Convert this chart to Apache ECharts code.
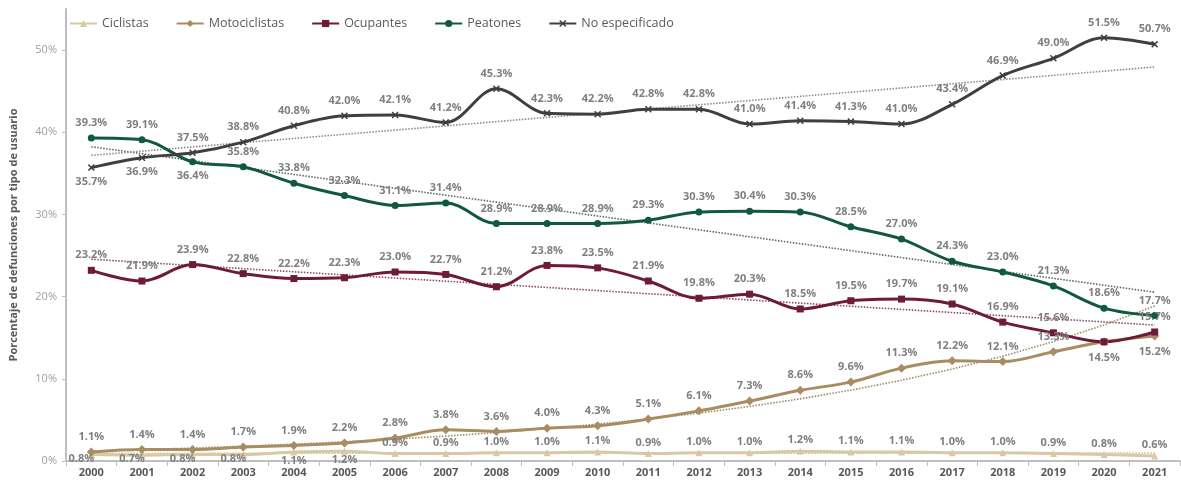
<!DOCTYPE html>
<html><head><meta charset="utf-8">
<script src="https://cdn.jsdelivr.net/npm/echarts@6/dist/echarts.min.js"></script>
<style>html,body{margin:0;padding:0;background:#fff}#c{width:1181px;height:480px}</style>
</head><body><div id="c"></div>
<script>
const years = ['2000','2001','2002','2003','2004','2005','2006','2007','2008','2009','2010','2011','2012','2013','2014','2015','2016','2017','2018','2019','2020','2021'];
const ciclistas = [0.8,0.7,0.8,0.8,1.1,1.2,0.9,0.9,1.0,1.0,1.1,0.9,1.0,1.0,1.2,1.1,1.1,1.0,1.0,0.9,0.8,0.6];
const motociclistas = [1.1,1.4,1.4,1.7,1.9,2.2,2.8,3.8,3.6,4.0,4.3,5.1,6.1,7.3,8.6,9.6,11.3,12.2,12.1,13.3,14.5,15.2];
const ocupantes = [23.2,21.9,23.9,22.8,22.2,22.3,23.0,22.7,21.2,23.8,23.5,21.9,19.8,20.3,18.5,19.5,19.7,19.1,16.9,15.6,14.5,15.7];
const peatones = [39.3,39.1,36.4,35.8,33.8,32.3,31.1,31.4,28.9,28.9,28.9,29.3,30.3,30.4,30.3,28.5,27.0,24.3,23.0,21.3,18.6,17.7];
const noEspecificado = [35.7,36.9,37.5,38.8,40.8,42.0,42.1,41.2,45.3,42.3,42.2,42.8,42.8,41.0,41.4,41.3,41.0,43.4,46.9,49.0,51.5,50.7];
const yTicks = [0,10,20,30,40,50];

function linFit(a){
  const n=a.length; let sx=0,sy=0,sxx=0,sxy=0;
  a.forEach((y,x)=>{sx+=x;sy+=y;sxx+=x*x;sxy+=x*y;});
  const b=(n*sxy-sx*sy)/(n*sxx-sx*sx), c=(sy-b*sx)/n;
  return a.map((_,x)=>c+b*x);
}
function expFit(a){
  const l=a.map(v=>Math.log(v));
  return linFit(l).map(v=>Math.exp(v));
}

const LBL = {show:true, fontFamily:'Open Sans', fontWeight:700, fontSize:11, color:'#7f7f7f',
  formatter:p=>Number(p.value).toFixed(1)+'%'};

function mk(arr, posFn){
  return arr.map((v,i)=>{
    const o = posFn(i);
    if(!o) return {value:v, label:{show:false}};
    return {value:v, label:o};
  });
}

const xSym = 'path://M0,1.5 L1.5,0 L5,3.5 L8.5,0 L10,1.5 L6.5,5 L10,8.5 L8.5,10 L5,6.5 L1.5,10 L0,8.5 L3.5,5 Z';

const colors = {
  cic:'#d8c9a4', mot:'#a88c62', ocu:'#6d1b36', pea:'#10593d', no:'#3f3f3f'
};

function lineSeries(name, arr, color, symbol, size, posFn){
  return {name, type:'line', data:mk(arr,posFn), smooth:0.35, symbol, symbolSize:size,
    lineStyle:{color, width:3}, itemStyle:{color}, label:LBL, z:3};
}
function trend(arr, color){
  return {name:'_t', type:'line', data:arr, symbol:'none', smooth:false, silent:true,
    lineStyle:{color, width:1.6, type:[1.5,1.5]}, z:2, label:{show:false}};
}

const series = [
  lineSeries('Ciclistas', ciclistas, colors.cic, 'triangle', 7, i=> i<=3 ? {position:'inside', offset:[-10,4]} : (i<=5 ? {position:'bottom', distance:0} : {position:'top', distance:2})),
  lineSeries('Motociclistas', motociclistas, colors.mot, 'diamond', 9, i=> i>=20 ? {position:'bottom', distance:6} : {position:'top', distance:5}),
  lineSeries('Ocupantes', ocupantes, colors.ocu, 'rect', 7, i=> i===20 ? null : {position:'top', distance:6}),
  lineSeries('Peatones', peatones, colors.pea, 'circle', 7, i=> i===2 ? {position:'bottom', distance:5} : {position:'top', distance:6}),
  lineSeries('No especificado', noEspecificado, colors.no, xSym, 7, i=> i<=1 ? {position:'bottom', distance:5} : {position:'top', distance:6}),
  trend(linFit(ciclistas), '#c8b68c'),
  trend(expFit(motociclistas), '#9c8a64'),
  trend(linFit(ocupantes), '#8a4a60'),
  trend(linFit(peatones), '#5a6a62'),
  trend(linFit(noEspecificado), '#8a8a8a')
];

const chart = echarts.init(document.getElementById('c'));
chart.setOption({
  animation:false,
  backgroundColor:'#fff',
  legend:{data:['Ciclistas','Motociclistas','Ocupantes','Peatones','No especificado'],
    left:64, top:12, itemWidth:27, itemHeight:9, itemGap:27,
    textStyle:{fontFamily:'Open Sans', fontSize:12.5, color:'#595959'}},
  grid:{left:63, right:1, top:9, bottom:19, containLabel:false},
  xAxis:{type:'category', data:years, boundaryGap:true,
    axisLine:{lineStyle:{color:'#bfbfbf', width:2}},
    axisTick:{show:true, length:5, lineStyle:{color:'#bfbfbf'}},
    axisLabel:{fontFamily:'Open Sans', fontWeight:700, fontSize:11, color:'#595959', margin:6}},
  yAxis:{type:'value', min:0, max:55, interval:10,
    name:'Porcentaje de defunciones por tipo de usuario', nameLocation:'middle', nameGap:47,
    nameTextStyle:{fontFamily:'Open Sans', fontWeight:700, fontSize:11, color:'#595959'},
    axisLine:{show:true, lineStyle:{color:'#bfbfbf', width:2}},
    axisTick:{show:true, length:4, lineStyle:{color:'#bfbfbf'}},
    splitLine:{show:false},
    axisLabel:{fontFamily:'Open Sans', fontSize:11, color:'#a0a0a0', margin:9, showMaxLabel:false,
      formatter:v=> yTicks.includes(v) ? v+'%' : ''}},
  series
});
</script></body></html>
